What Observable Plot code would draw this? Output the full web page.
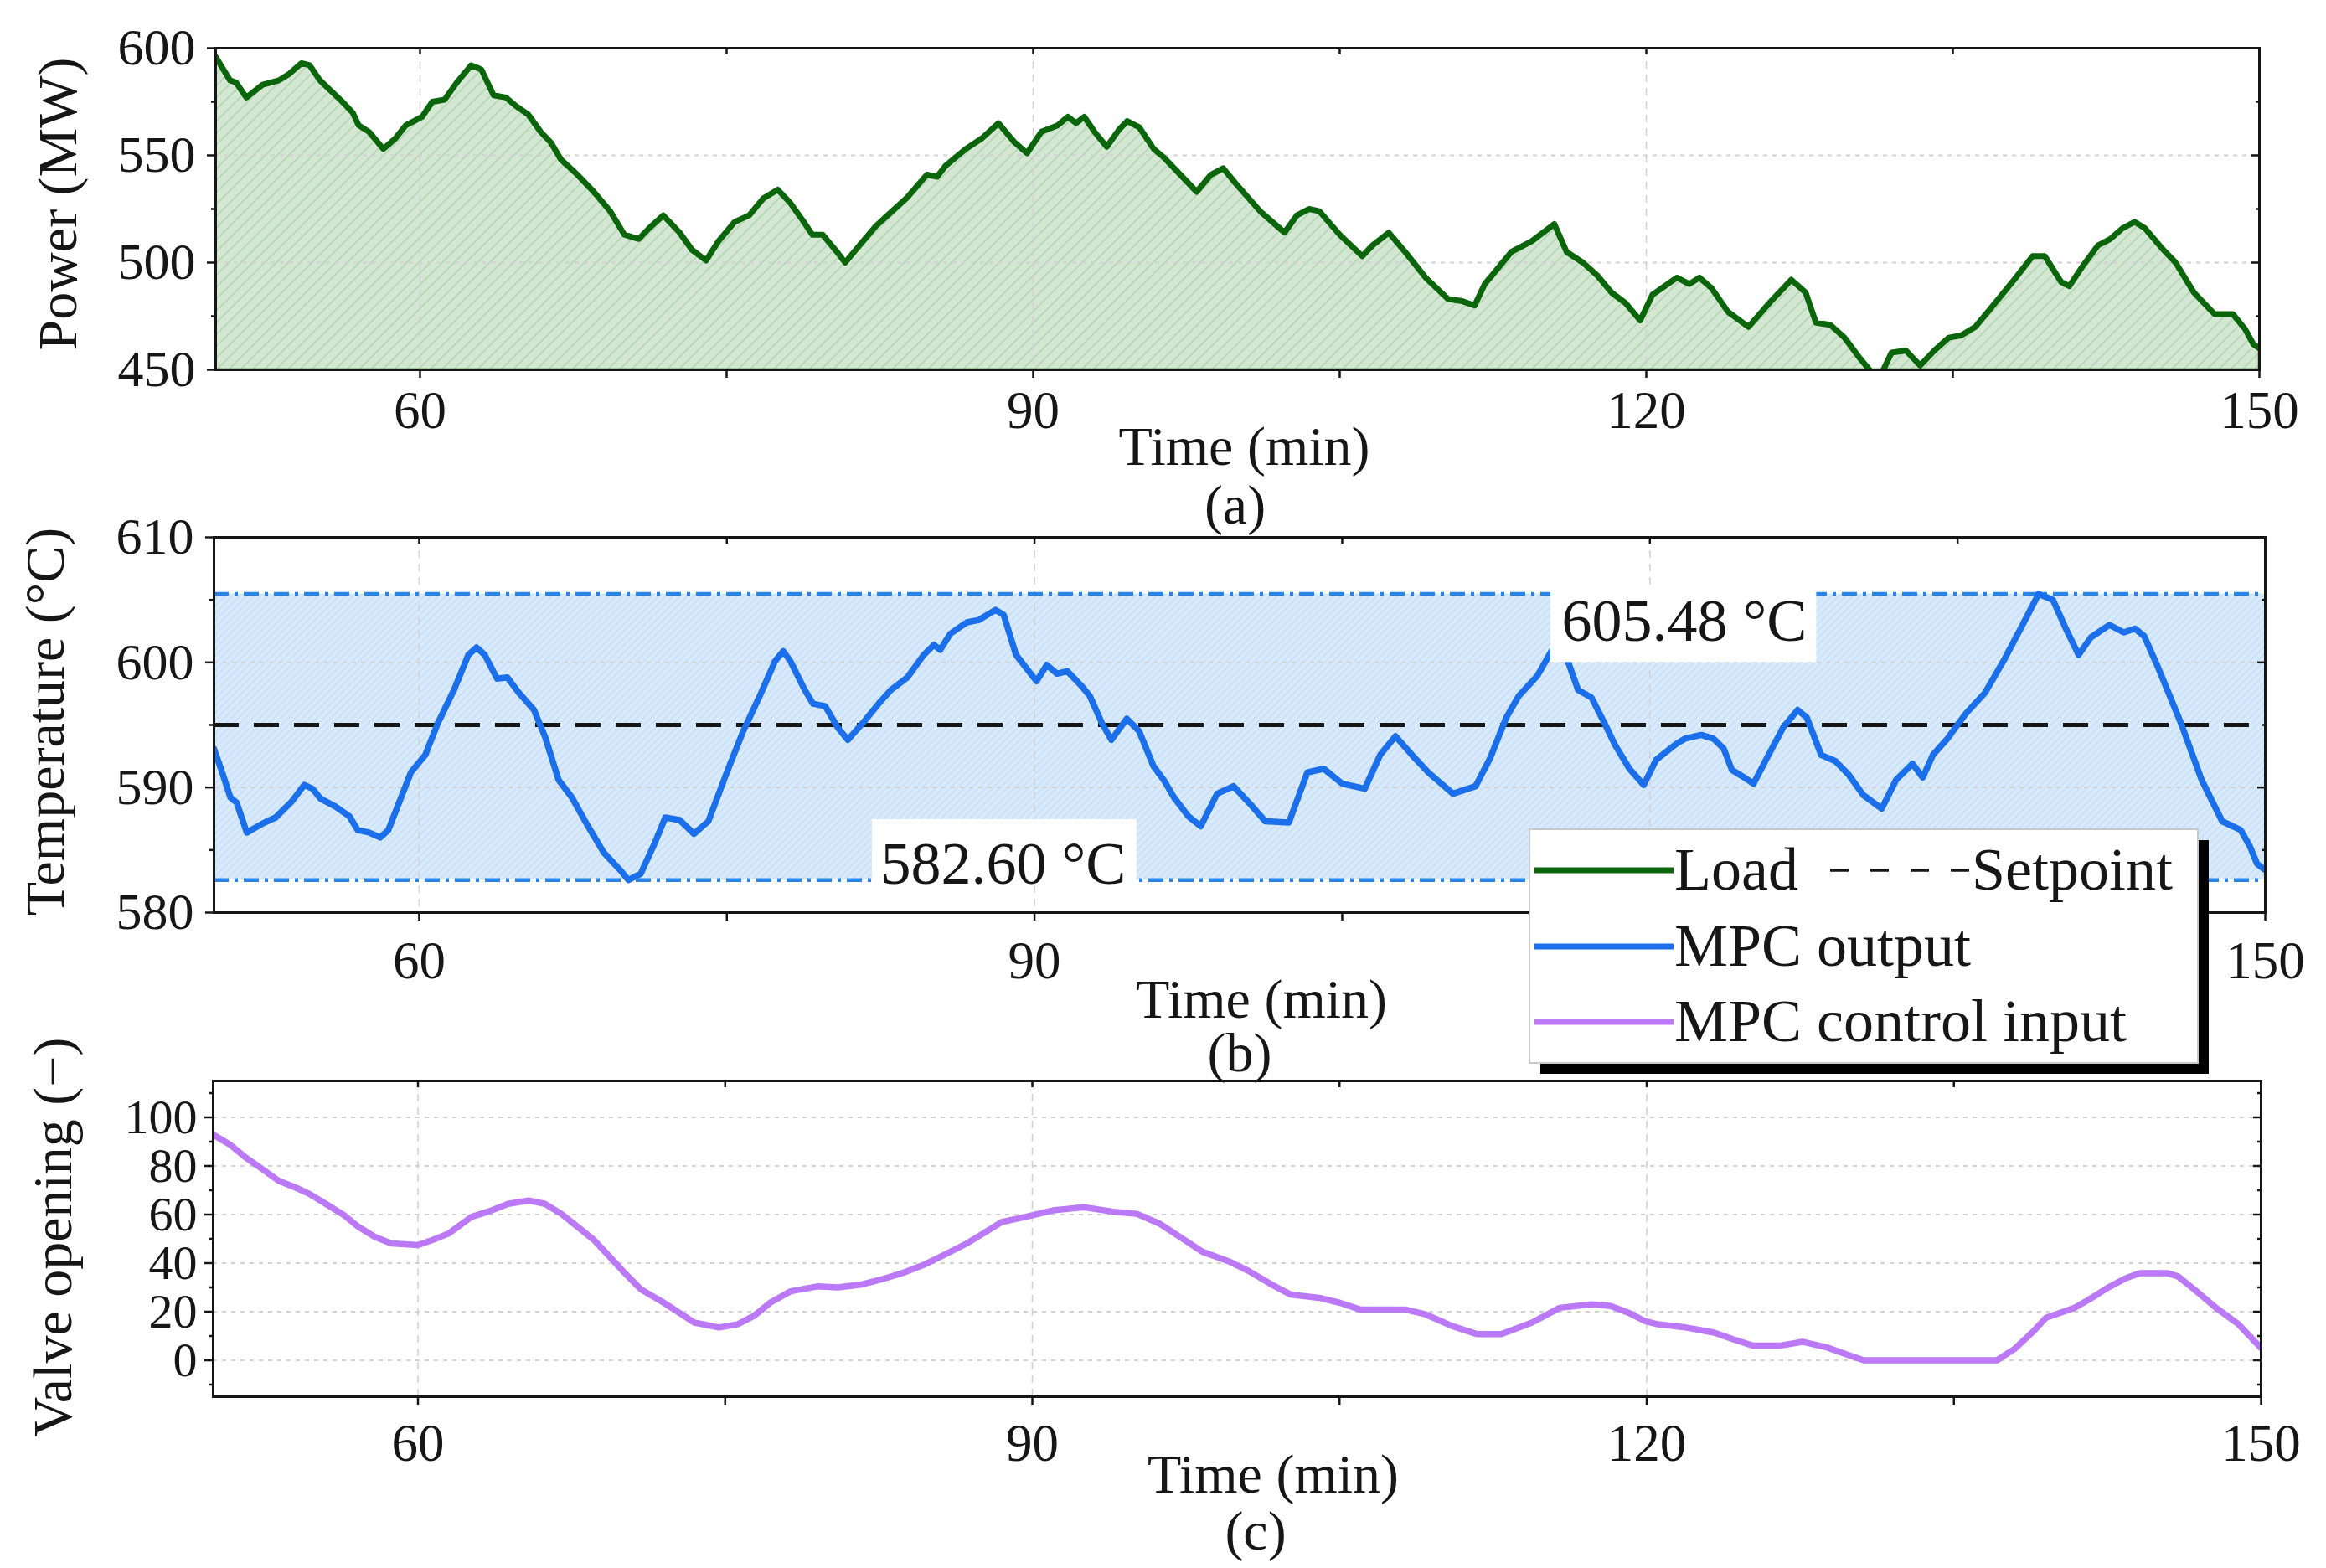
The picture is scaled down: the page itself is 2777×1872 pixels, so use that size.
<!DOCTYPE html>
<html>
<head>
<meta charset="utf-8">
<script src="https://cdn.jsdelivr.net/npm/d3@7"></script>
<script src="https://cdn.jsdelivr.net/npm/@observablehq/plot@0.6"></script>
<style>
html, body { margin: 0; padding: 0; background: #fff; }
#page { position: relative; width: 2777px; height: 1872px; overflow: hidden; background: #fff; }
.panel { position: absolute; left: 0; }
</style>
</head>
<body>
<svg width="0" height="0" style="position:absolute">
  <defs>
    <pattern id="hatchGreen" patternUnits="userSpaceOnUse" width="10" height="10" patternTransform="rotate(45)">
      <rect width="10" height="10" fill="#d3e7d3"></rect>
      <line x1="5" y1="0" x2="5" y2="10" stroke="#b3d4b3" stroke-width="1.6"></line>
    </pattern>
    <pattern id="hatchBlue" patternUnits="userSpaceOnUse" width="6" height="6" patternTransform="rotate(45)">
      <rect width="6" height="6" fill="#d9eafc"></rect>
      <line x1="3" y1="0" x2="3" y2="6" stroke="#c3dcf6" stroke-width="1.3"></line>
    </pattern>
  </defs>
</svg>
<div id="page"></div>
<script>
// ---------------- data ----------------
const timeDomain = [50, 150];
const timeTicks = [60, 75, 90, 105, 120, 135, 150];
const timeTickLabels = [60, 90, 120, 150];
const timeTickPlain = [75, 105, 135];
const timeGrid = [60, 90, 120];
// in panel (b) the 120 label lies hidden under the legend
const timeTickLabelsB = [60, 90, 150];
const timeTickPlainB = [75, 105, 120, 135];

const powerDomain = [450, 600];
const powerTicks = [450, 500, 550, 600];
const powerMinor = [475, 525, 575];
const powerGrid = [500, 550];

const tempDomain = [580, 610];
const tempTicks = [580, 590, 600, 610];
const tempMinor = [585, 595, 605];
const tempGrid = [590, 600];
const tempLimits = [582.60, 605.48];
const tempSetpoint = [595];

const valveDomain = [-15, 115];
const valveTicks = [0, 20, 40, 60, 80, 100];
const valveMinor = [-10, 10, 30, 50, 70, 90, 110];

// Load (MW) : [time (min), power]
const loadPoints = [[50,596],[50.7,585],[51.0,584],[51.5,577],[52.3,583],[53.1,585],[53.6,588],[54.2,593],[54.6,592],[55.1,585],[56.2,575],[56.7,570],[57.0,564],[57.5,561],[58.2,553],[58.8,558],[59.3,564],[59.7,566],[60.1,568],[60.6,575],[61.2,576],[61.8,584],[62.5,592],[63.0,590],[63.6,578],[64.2,577],[64.7,573],[65.3,569],[65.9,561],[66.4,556],[66.9,548],[67.7,541],[68.5,533],[69.3,524],[70.0,513],[70.7,511],[71.2,516],[71.9,522],[72.7,514],[73.3,506],[74.0,501],[74.6,510],[75.4,519],[76.1,522],[76.8,530],[77.5,534],[78.1,528],[78.7,520],[79.2,513],[79.7,513],[80.4,505],[80.8,500],[81.5,508],[82.3,517],[83.1,524],[83.8,530],[84.8,541],[85.3,540],[85.7,545],[86.7,553],[87.5,558],[88.3,565],[89.1,556],[89.7,551],[90.4,561],[91.2,564],[91.7,568],[92.1,565],[92.5,568],[93.0,561],[93.6,554],[94.2,562],[94.6,566],[95.2,563],[95.9,553],[96.4,549],[97.1,542],[98.0,533],[98.7,541],[99.3,544],[99.9,537],[101.1,524],[102.3,514],[102.9,522],[103.5,525],[104.0,524],[105.0,513],[106.1,503],[106.6,508],[107.4,514],[108.2,505],[109.2,493],[110.3,483],[111.0,482],[111.6,480],[112.1,490],[113.4,505],[114.4,510],[115.5,518],[116.1,505],[116.9,500],[117.6,494],[118.3,486],[119.0,481],[119.7,473],[120.3,485],[121.5,493],[122.1,490],[122.6,493],[123.2,488],[124.0,477],[125.0,470],[126.1,482],[127.1,492],[127.8,486],[128.3,472],[129.0,471],[129.7,465],[130.4,456],[131.1,448],[131.5,448],[132.0,458],[132.7,459],[133.4,452],[134.1,459],[134.8,465],[135.4,466],[136.1,470],[136.8,478],[138.0,492],[138.9,503],[139.5,503],[140.3,491],[140.7,489],[141.4,499],[142.1,508],[142.7,511],[143.3,516],[143.9,519],[144.4,516],[145.2,507],[145.9,500],[146.8,486],[147.8,476],[148.7,476],[149.3,469],[149.7,462],[150,460]];

// MPC output temperature (°C)
const tempPoints = [[50,593.1],[50.4,591.2],[50.8,589.2],[51.1,588.8],[51.6,586.4],[52.35,587.1],[53.0,587.6],[53.8,588.9],[54.4,590.2],[54.8,589.9],[55.2,589.1],[55.9,588.5],[56.6,587.7],[57.0,586.6],[57.55,586.4],[58.1,586.0],[58.5,586.6],[59.0,588.7],[59.6,591.2],[60.3,592.6],[60.9,595.1],[61.7,597.8],[62.4,600.6],[62.8,601.2],[63.2,600.6],[63.8,598.7],[64.3,598.8],[64.85,597.6],[65.6,596.2],[66.15,594.0],[66.8,590.6],[67.45,589.2],[68.2,587.0],[69.0,584.8],[69.8,583.4],[70.2,582.6],[70.8,583.1],[71.5,585.6],[72.0,587.6],[72.7,587.4],[73.4,586.3],[74.1,587.3],[75.0,591.2],[75.8,594.5],[76.6,597.3],[77.35,600.1],[77.75,600.9],[78.1,600.1],[78.8,597.8],[79.2,596.7],[79.8,596.5],[80.4,594.8],[80.9,593.8],[81.6,595.1],[82.4,596.7],[83.0,597.8],[83.8,598.8],[84.6,600.6],[85.1,601.4],[85.4,601.0],[85.9,602.3],[86.7,603.2],[87.3,603.4],[88.1,604.2],[88.5,603.8],[89.1,600.6],[90.1,598.5],[90.6,599.8],[91.1,599.1],[91.6,599.3],[92.3,598.1],[92.7,597.3],[93.3,595.1],[93.75,593.8],[94.5,595.5],[95.1,594.5],[95.8,591.7],[96.3,590.6],[96.8,589.2],[97.5,587.7],[98.1,586.9],[98.9,589.5],[99.7,590.1],[100.5,588.7],[101.25,587.3],[102.4,587.2],[103.3,591.2],[104.1,591.5],[105.0,590.3],[106.1,589.9],[106.85,592.6],[107.6,594.1],[108.4,592.6],[109.2,591.2],[110.4,589.5],[111.5,590.1],[112.2,592.3],[113.0,595.6],[113.6,597.3],[114.5,598.9],[115.2,600.9],[115.6,601.8],[116.0,600.1],[116.5,597.8],[117.15,597.2],[117.8,595.1],[118.3,593.4],[119.0,591.5],[119.7,590.2],[120.3,592.2],[121.3,593.5],[121.7,593.9],[122.5,594.2],[123.1,593.9],[123.6,593.1],[124.0,591.4],[124.5,590.9],[125.05,590.3],[125.85,592.8],[126.5,594.8],[127.2,596.2],[127.65,595.6],[128.35,592.6],[129.05,592.1],[129.7,591.0],[130.4,589.4],[131.3,588.3],[132.0,590.6],[132.8,591.9],[133.3,590.8],[133.8,592.6],[134.5,593.9],[135.4,595.9],[136.35,597.6],[137.3,600.3],[138.2,603.1],[138.95,605.48],[139.65,605.0],[140.25,602.8],[140.9,600.6],[141.5,602.0],[142.4,603.0],[143.1,602.4],[143.65,602.7],[144.1,602.1],[144.8,599.5],[145.9,595.1],[146.9,590.6],[147.9,587.3],[148.8,586.6],[149.25,585.3],[149.6,583.9],[150,583.4]];

// MPC control input: valve opening
const valvePoints = [[50,92.9],[50.8,88.9],[51.6,83.4],[52.4,78.7],[53.2,73.9],[54.0,71.2],[54.7,68.5],[55.5,64.4],[56.4,59.7],[57.1,54.9],[57.9,50.8],[58.7,48.1],[60.0,47.4],[60.7,49.5],[61.5,52.2],[62.6,59.0],[63.6,61.7],[64.4,64.4],[65.4,65.8],[66.2,64.4],[67.0,60.3],[67.8,54.9],[68.6,49.5],[69.35,42.7],[70.1,35.9],[70.9,29.1],[72.0,23.7],[72.75,19.6],[73.5,15.5],[74.7,13.5],[75.6,14.8],[76.4,18.2],[77.2,23.7],[78.2,28.4],[79.5,30.4],[80.5,30.0],[81.6,31.1],[82.6,33.2],[83.65,35.9],[84.7,39.3],[85.7,43.4],[86.8,48.1],[87.6,52.2],[88.5,56.9],[89.65,59.0],[91.0,61.7],[92.5,63.0],[94.1,61.0],[95.1,60.3],[96.2,56.3],[97.2,50.8],[98.3,44.7],[99.6,40.7],[100.6,36.6],[101.7,31.1],[102.6,27.1],[104.0,25.7],[105.0,23.7],[106.0,20.9],[108.2,20.9],[109.2,18.9],[110.5,14.1],[111.7,10.8],[112.9,10.8],[114.4,15.5],[115.75,21.6],[117.3,23.0],[118.25,22.3],[119.1,19.6],[119.9,16.2],[120.55,14.8],[121.9,13.5],[123.3,11.4],[124.2,8.7],[125.2,6.0],[126.5,6.0],[127.6,7.6],[128.8,5.3],[129.7,2.6],[130.6,0],[137.1,0],[137.95,4.6],[138.9,12.1],[139.5,17.5],[140.2,19.6],[140.9,21.6],[141.6,25.0],[142.5,29.8],[143.4,33.8],[144.1,35.9],[145.4,35.9],[145.95,34.5],[146.75,29.1],[147.8,21.6],[148.9,14.8],[150,5.0]];

// annotations of the band limits (label, text anchor, white box)
const annotText = ["605.48 °C", "582.60 °C"];
const annotTime = [115.7, 82.5];
const annotTemp = [603.25, 583.85];
const annotBoxTime = [[115.17, 128.13], [82.09, 94.99]];
const annotBoxTemp = [[600.0, 605.8], [582.3, 587.44]];

const legendNames = ["Load", "Setpoint", "MPC output", "MPC control input"];

// ---------------- style ----------------
const FONT = "'Liberation Serif','Times New Roman',Times,serif";
const INK = "#161616";
const GRID = "#d2d2d2";
const GREEN = "#0b660b";
const BLUE = "#1c6fea";
const BAND_EDGE = "#2a84e6";
const PURPLE = "#bb79f7";

const toRows = pts => pts.map(([t, v]) => ({t, v}));
const loadRows = toRows(loadPoints);
const tempRows = toRows(tempPoints);
const valveRows = toRows(valvePoints);
const limitRows = [{lower: tempLimits[0], upper: tempLimits[1]}];
const annotRows = annotText.map((text, i) => ({
  text, t: annotTime[i], v: annotTemp[i],
  t1: annotBoxTime[i][0], t2: annotBoxTime[i][1],
  v1: annotBoxTemp[i][0], v2: annotBoxTemp[i][1]
}));

const baseStyle = {fontFamily: FONT, background: "transparent", overflow: "visible", color: INK};
const gridXOpts = {stroke: GRID, strokeOpacity: 1, strokeWidth: 1.6, strokeDasharray: "9,7"};
const gridYOpts = {stroke: GRID, strokeOpacity: 1, strokeWidth: 2.2, strokeDasharray: "5,6"};

function frameAndTicks(cfg) {
  const tick = {stroke: INK, strokeWidth: 2.5};
  return [
    Plot.frame({stroke: INK, strokeWidth: 3}),
    Plot.axisX(cfg.xLabels || timeTickLabels, {anchor: "bottom", tickSize: 10, tickPadding: cfg.xPad, fontSize: 63, fill: INK, label: null, ...tick}),
    Plot.axisX(cfg.xPlain || timeTickPlain, {anchor: "bottom", tickSize: 10, fill: "none", label: null, ...tick}),
    Plot.axisX(timeTicks, {anchor: "top", tickSize: 7, dy: 7, fill: "none", label: null, ...tick}),
    Plot.axisY(cfg.yTicks, {anchor: "left", tickSize: 10, tickPadding: cfg.yPad, fontSize: cfg.yFont || 62, fill: INK, label: null, ...tick}),
    Plot.axisY(cfg.yMinor, {anchor: "left", tickSize: 5, fill: "none", label: null, ...tick}),
    Plot.axisY(cfg.yTicks, {anchor: "right", tickSize: 10, dx: -10, fill: "none", label: null, ...tick}),
    Plot.axisY(cfg.yMinor, {anchor: "right", tickSize: 5, dx: -5, fill: "none", label: null, ...tick})
  ];
}

function titles(cfg) {
  const t = {fontSize: 66, fill: INK, textAnchor: "middle", lineAnchor: "middle"};
  return [
    Plot.text([cfg.yLabel], {...t, frameAnchor: "left", rotate: -90, dx: cfg.yDx, dy: cfg.yDy}),
    Plot.text(["Time (min)"], {...t, frameAnchor: "bottom", dx: cfg.xDx, dy: cfg.xDy}),
    Plot.text([cfg.tag], {...t, frameAnchor: "bottom", dx: cfg.tagDx, dy: cfg.tagDy})
  ];
}

function place(svg, top) {
  const div = document.createElement("div");
  div.className = "panel";
  div.style.top = top + "px";
  div.appendChild(svg);
  document.getElementById("page").appendChild(div);
}

// ---------------- panel (a) ----------------
const plotA = Plot.plot({
  width: 2777, height: 630,
  marginLeft: 257, marginRight: 80, marginTop: 57, marginBottom: 189,
  style: baseStyle,
  x: {domain: timeDomain},
  y: {domain: powerDomain},
  marks: [
    Plot.areaY(loadRows, {x: "t", y1: powerDomain[0], y2: "v", fill: "url(#hatchGreen)", stroke: GREEN, strokeWidth: 2.5, clip: true}),
    Plot.gridX(timeGrid, gridXOpts),
    Plot.gridY(powerGrid, gridYOpts),
    Plot.lineY(loadRows, {x: "t", y: "v", stroke: GREEN, strokeWidth: 7, strokeLinejoin: "round", clip: true}),
    ...frameAndTicks({xPad: 15, yPad: 14, yTicks: powerTicks, yMinor: powerMinor}),
    ...titles({yLabel: "Power (MW)", yDx: -188, yDy: -6, xDx: 8, xDy: 92, tag: "(a)", tagDx: -3, tagDy: 162})
  ]
});
place(plotA, 0);

// ---------------- panel (b) ----------------
const plotB = Plot.plot({
  width: 2777, height: 660,
  marginLeft: 255, marginRight: 73, marginTop: 21, marginBottom: 191,
  style: baseStyle,
  x: {domain: timeDomain},
  y: {domain: tempDomain},
  marks: [
    Plot.rect(limitRows, {x1: timeDomain[0], x2: timeDomain[1], y1: "lower", y2: "upper", fill: "url(#hatchBlue)"}),
    Plot.gridX(timeGrid, gridXOpts),
    Plot.gridY(tempGrid, gridYOpts),
    Plot.ruleX(timeDomain, {y1: tempLimits[0], y2: tempLimits[1], stroke: BAND_EDGE, strokeWidth: 3, strokeDasharray: "18,7,4,7"}),
    Plot.ruleY(tempLimits, {stroke: BAND_EDGE, strokeWidth: 4.5, strokeDasharray: "18,7,4,7"}),
    Plot.ruleY(tempSetpoint, {stroke: INK, strokeWidth: 5, strokeDasharray: "30,18"}),
    Plot.lineY(tempRows, {x: "t", y: "v", stroke: BLUE, strokeWidth: 7.5, strokeLinejoin: "round", clip: true}),
    Plot.rect(annotRows, {x1: "t1", x2: "t2", y1: "v1", y2: "v2", fill: "white"}),
    Plot.text(annotRows, {x: "t", y: "v", text: "text", fontSize: 72, fill: INK, textAnchor: "start", lineAnchor: "middle"}),
    ...frameAndTicks({xPad: 24, yPad: 14, yTicks: tempTicks, yMinor: tempMinor, xLabels: timeTickLabelsB, xPlain: timeTickPlainB}),
    ...titles({yLabel: "Temperature (°C)", yDx: -201, yDy: -4, xDx: 26, xDy: 104, tag: "(b)", tagDx: 0, tagDy: 168})
  ]
});
place(plotB, 620);

// ---------------- panel (c) ----------------
const plotC = Plot.plot({
  width: 2777, height: 592,
  marginLeft: 254, marginRight: 78, marginTop: 10, marginBottom: 205,
  style: baseStyle,
  x: {domain: timeDomain},
  y: {domain: valveDomain},
  marks: [
    Plot.gridX(timeGrid, gridXOpts),
    Plot.gridY(valveTicks, gridYOpts),
    Plot.lineY(valveRows, {x: "t", y: "v", stroke: PURPLE, strokeWidth: 7.5, strokeLinejoin: "round", clip: true}),
    ...frameAndTicks({xPad: 22, yPad: 9, yFont: 58, yTicks: valveTicks, yMinor: valveMinor}),
    ...titles({yLabel: "Valve opening (−)", yDx: -191, yDy: -2, xDx: 43, xDy: 93, tag: "(c)", tagDx: 22, tagDy: 161})
  ]
});
place(plotC, 1280);

// ---------------- legend ----------------
const legendEntries = [
  {name: legendNames[0], color: GREEN, dash: null, x: 16, row: 0},
  {name: legendNames[1], color: INK, dash: "22,26", x: 369, row: 0, len: 168, width: 3.5},
  {name: legendNames[2], color: BLUE, dash: null, x: 16, row: 1},
  {name: legendNames[3], color: PURPLE, dash: null, x: 16, row: 2}
];
const legend = d3.select("#page").append("svg")
  .attr("width", 840).attr("height", 320)
  .style("position", "absolute").style("left", "1816px").style("top", "980px").style("z-index", 5)
  .style("overflow", "visible");
legend.append("rect").attr("x", 23).attr("y", 23).attr("width", 798).attr("height", 279).attr("fill", "#000");
legend.append("rect").attr("x", 10).attr("y", 10).attr("width", 798).attr("height", 279)
  .attr("fill", "#fff").attr("stroke", "#c8c8c8").attr("stroke-width", 2);
const rowY = [59, 150, 240];
for (const e of legendEntries) {
  const len = e.len || 166;
  legend.append("line")
    .attr("x1", e.x).attr("x2", e.x + len).attr("y1", rowY[e.row]).attr("y2", rowY[e.row])
    .attr("stroke", e.color).attr("stroke-width", e.width || 7)
    .attr("stroke-dasharray", e.dash);
  legend.append("text")
    .attr("x", e.x + len + 1).attr("y", rowY[e.row] + 23)
    .attr("font-family", FONT).attr("font-size", 72).attr("fill", INK)
    .text(e.name);
}
</script>
</body>
</html>
